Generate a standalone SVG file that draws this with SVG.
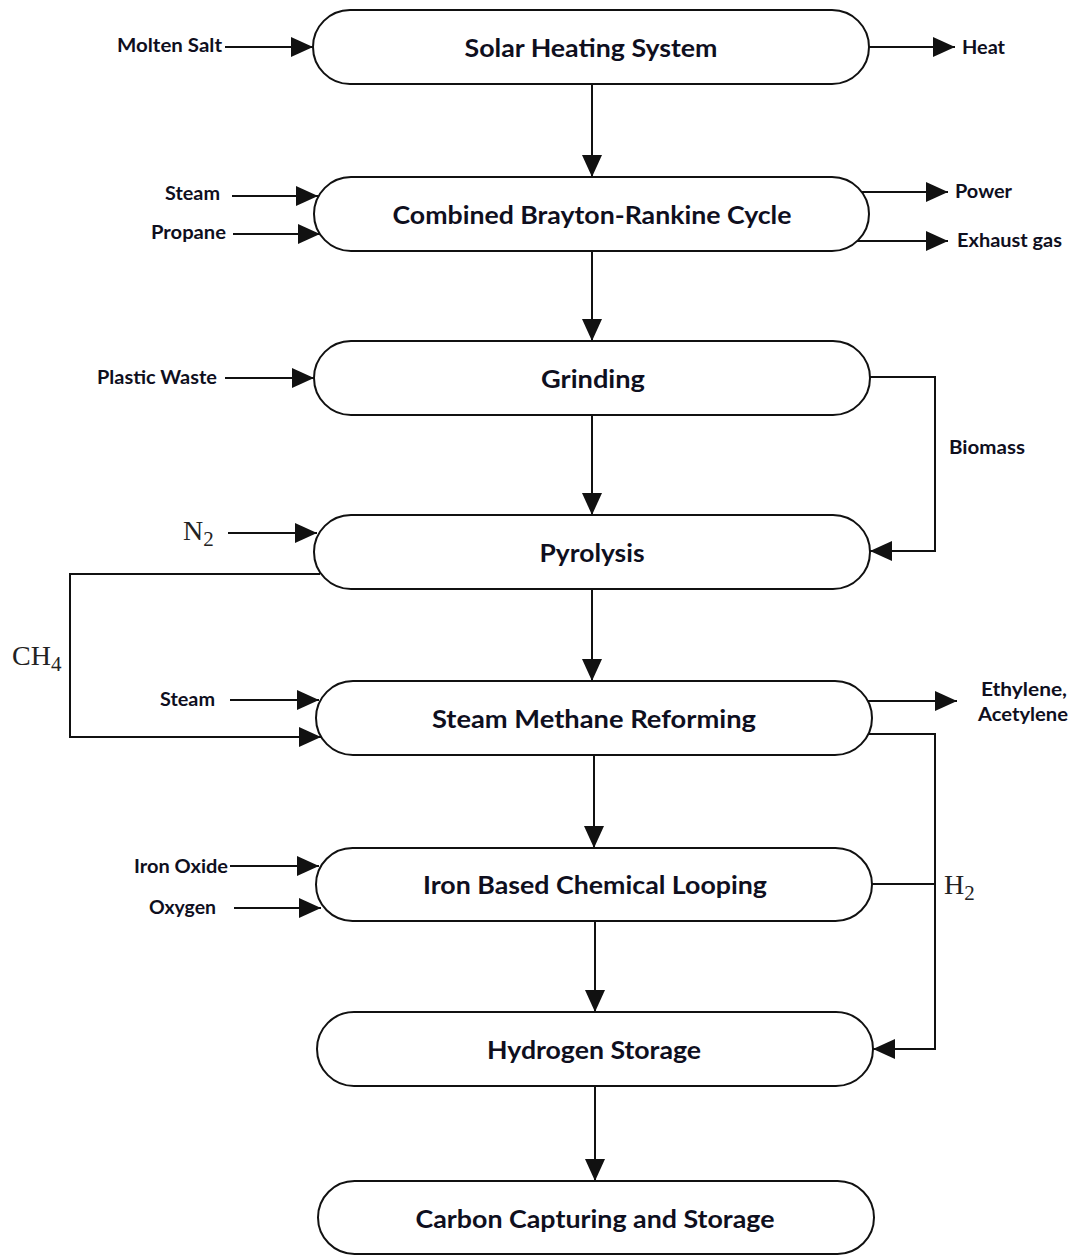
<svg xmlns="http://www.w3.org/2000/svg" width="1075" height="1256" viewBox="0 0 1075 1256">
  <style>
    .node rect { fill: #ffffff; stroke: #111111; stroke-width: 2; }
    .node text { font-family: Lato, "Liberation Sans", sans-serif; font-weight: bold; font-size: 24px; fill: #0f0f1e; text-anchor: middle; dominant-baseline: central; }
    .edge { fill: none; stroke: #111111; stroke-width: 2; }
    .lbl { font-family: Lato, "Liberation Sans", sans-serif; font-weight: bold; font-size: 18px; fill: #0f0f1e; dominant-baseline: central; }
    .math { font-family: "Liberation Serif", "DejaVu Serif", serif; font-size: 28px; fill: #222222; }
    .sub { font-size: 21px; }
  </style>
  <defs>
    <marker id="arrow" markerUnits="userSpaceOnUse" markerWidth="22" markerHeight="20" refX="22" refY="10" orient="auto">
      <path d="M0,0 L22,10 L0,20 z" fill="#111111"/>
    </marker>
  </defs>
  <rect width="1075" height="1256" fill="#ffffff"/>

  <!-- connectors -->
  <g id="connectors">
    <!-- main vertical flow -->
    <line class="edge" x1="592" y1="84" x2="592" y2="177" marker-end="url(#arrow)"/>
    <line class="edge" x1="592" y1="251" x2="592" y2="341" marker-end="url(#arrow)"/>
    <line class="edge" x1="592" y1="415" x2="592" y2="515" marker-end="url(#arrow)"/>
    <line class="edge" x1="592" y1="589" x2="592" y2="681" marker-end="url(#arrow)"/>
    <line class="edge" x1="594" y1="755" x2="594" y2="848" marker-end="url(#arrow)"/>
    <line class="edge" x1="595" y1="921" x2="595" y2="1012" marker-end="url(#arrow)"/>
    <line class="edge" x1="595" y1="1086" x2="595" y2="1181" marker-end="url(#arrow)"/>

    <!-- inputs on the left -->
    <line class="edge" x1="225" y1="47" x2="313" y2="47" marker-end="url(#arrow)"/>
    <line class="edge" x1="232" y1="196" x2="318" y2="196" marker-end="url(#arrow)"/>
    <line class="edge" x1="233" y1="234" x2="320" y2="234" marker-end="url(#arrow)"/>
    <line class="edge" x1="225" y1="378" x2="314" y2="378" marker-end="url(#arrow)"/>
    <line class="edge" x1="228" y1="533" x2="317" y2="533" marker-end="url(#arrow)"/>
    <line class="edge" x1="230" y1="700" x2="319" y2="700" marker-end="url(#arrow)"/>
    <line class="edge" x1="230" y1="866" x2="319" y2="866" marker-end="url(#arrow)"/>
    <line class="edge" x1="234" y1="908" x2="321" y2="908" marker-end="url(#arrow)"/>

    <!-- CH4 recycle from pyrolysis to reforming -->
    <polyline class="edge" points="320,574 70,574 70,737 321,737" marker-end="url(#arrow)"/>

    <!-- outputs on the right -->
    <line class="edge" x1="869" y1="47" x2="955" y2="47" marker-end="url(#arrow)"/>
    <line class="edge" x1="862" y1="192" x2="948" y2="192" marker-end="url(#arrow)"/>
    <line class="edge" x1="857" y1="241" x2="948" y2="241" marker-end="url(#arrow)"/>
    <line class="edge" x1="868" y1="701" x2="957" y2="701" marker-end="url(#arrow)"/>

    <!-- biomass from grinding to pyrolysis -->
    <polyline class="edge" points="870,377 935,377 935,551 870,551" marker-end="url(#arrow)"/>

    <!-- hydrogen collection to storage -->
    <polyline class="edge" points="867,734 935,734 935,1049 873,1049" marker-end="url(#arrow)"/>
    <line class="edge" x1="872" y1="884" x2="935" y2="884"/>
  </g>

  <!-- process nodes -->
  <g id="solar" class="node">
    <rect x="313" y="10" width="556" height="74" rx="37"/>
    <text x="591" y="47" textLength="253" lengthAdjust="spacingAndGlyphs">Solar Heating System</text>
  </g>
  <g id="brayton" class="node">
    <rect x="314" y="177" width="555" height="74" rx="37"/>
    <text x="592" y="214" textLength="399" lengthAdjust="spacingAndGlyphs">Combined Brayton-Rankine Cycle</text>
  </g>
  <g id="grinding" class="node">
    <rect x="314" y="341" width="556" height="74" rx="37"/>
    <text x="593" y="378" textLength="104" lengthAdjust="spacingAndGlyphs">Grinding</text>
  </g>
  <g id="pyrolysis" class="node">
    <rect x="314" y="515" width="556" height="74" rx="37"/>
    <text x="592" y="552" textLength="105" lengthAdjust="spacingAndGlyphs">Pyrolysis</text>
  </g>
  <g id="smr" class="node">
    <rect x="316" y="681" width="556" height="74" rx="37"/>
    <text x="594" y="718" textLength="324" lengthAdjust="spacingAndGlyphs">Steam Methane Reforming</text>
  </g>
  <g id="looping" class="node">
    <rect x="316" y="848" width="556" height="73" rx="36.5"/>
    <text x="595" y="884" textLength="344" lengthAdjust="spacingAndGlyphs">Iron Based Chemical Looping</text>
  </g>
  <g id="h2storage" class="node">
    <rect x="317" y="1012" width="556" height="74" rx="37"/>
    <text x="594" y="1049" textLength="214" lengthAdjust="spacingAndGlyphs">Hydrogen Storage</text>
  </g>
  <g id="ccs" class="node">
    <rect x="318" y="1181" width="556" height="73" rx="36.5"/>
    <text x="595" y="1218" textLength="359" lengthAdjust="spacingAndGlyphs">Carbon Capturing and Storage</text>
  </g>

  <!-- stream labels -->
  <g id="labels">
    <text class="lbl" x="117" y="45" textLength="105" lengthAdjust="spacingAndGlyphs">Molten Salt</text>
    <text class="lbl" x="962" y="47" textLength="43" lengthAdjust="spacingAndGlyphs">Heat</text>
    <text class="lbl" x="165" y="193" textLength="55" lengthAdjust="spacingAndGlyphs">Steam</text>
    <text class="lbl" x="151" y="232" textLength="75" lengthAdjust="spacingAndGlyphs">Propane</text>
    <text class="lbl" x="955" y="191" textLength="57" lengthAdjust="spacingAndGlyphs">Power</text>
    <text class="lbl" x="957" y="240" textLength="105" lengthAdjust="spacingAndGlyphs">Exhaust gas</text>
    <text class="lbl" x="97" y="377" textLength="120" lengthAdjust="spacingAndGlyphs">Plastic Waste</text>
    <text class="lbl" x="949" y="447" textLength="76" lengthAdjust="spacingAndGlyphs">Biomass</text>
    <text class="lbl" x="160" y="699" textLength="55" lengthAdjust="spacingAndGlyphs">Steam</text>
    <text class="lbl" x="981" y="689" textLength="86" lengthAdjust="spacingAndGlyphs">Ethylene,</text>
    <text class="lbl" x="978" y="714" textLength="90" lengthAdjust="spacingAndGlyphs">Acetylene</text>
    <text class="lbl" x="134" y="866" textLength="94" lengthAdjust="spacingAndGlyphs">Iron Oxide</text>
    <text class="lbl" x="149" y="907" textLength="67" lengthAdjust="spacingAndGlyphs">Oxygen</text>

    <text class="math" x="183" y="540">N<tspan class="sub" dy="6">2</tspan></text>
    <text class="math" x="12" y="665">CH<tspan class="sub" dy="6">4</tspan></text>
    <text class="math" x="944" y="894">H<tspan class="sub" dy="6">2</tspan></text>
  </g>
</svg>
